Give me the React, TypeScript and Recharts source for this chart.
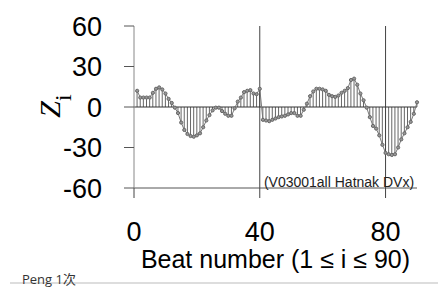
import { ComposedChart, Bar, Line, XAxis, YAxis, ReferenceLine } from 'recharts';

const beats = Array.from({ length: 90 }, (_, k) => k + 1);

const zValues = [
  12, 7, 7, 7, 7, 10.5, 13.5, 14.5, 13, 10,
  6, 3, -0.5, -4.5, -11.5, -17, -20, -21.5, -22, -21,
  -19.5, -15, -10, -6, -2.5, -0.5, -0.5, -3, -5, -6.5,
  -6.5, -1, 4, 7, 11, 12, 12.5, 10, 9.5, 13.5,
  -9.5, -10, -10.5, -9.5, -8.5, -7.5, -7, -6.5, -5.5, -4.5,
  -4.5, -6.5, -6.5, -2, 2.5, 8, 11.5, 13.5, 13.5, 13,
  12, 9, 8, 7.5, 8.5, 10.5, 12, 14, 20, 21,
  16.5, 10, 5, -0.5, -7.5, -14, -16, -21, -28, -34,
  -35, -35.5, -35, -30, -24, -19.5, -15, -11, -5, 3.5,
];

const yTicks = [-60, -30, 0, 30, 60];
const xTicks = [0, 40, 80];
const segmentLines = [40, 80];

const data = beats.map((i, k) => ({ i, z: zValues[k] }));

const FONT = 'Arial, "Liberation Sans", sans-serif';

function YTick(props: any) {
  const { x, y, payload } = props;
  return (
    <text x={x - 20} y={y} dy="0.36em" textAnchor="end" fontSize={27} fontFamily={FONT} fill="#000">
      {payload.value}
    </text>
  );
}

function XTick(props: any) {
  const { x, y, payload } = props;
  return (
    <text x={x} y={y + 41} textAnchor="middle" fontSize={27} fontFamily={FONT} fill="#000">
      {payload.value}
    </text>
  );
}

function XLabel(props: any) {
  const { viewBox } = props;
  return (
    <text x={viewBox.x + viewBox.width / 2} y={viewBox.y + 80} textAnchor="middle" fontSize={25} fontFamily={FONT} fill="#000">
      Beat number (1 ≤ i ≤ 90)
    </text>
  );
}

export default function App() {
  return (
    <div style={{ position: 'absolute', left: 0, top: 0, width: 438, height: 287, background: '#fff' }}>
      <ComposedChart width={438} height={287} data={data} margin={{ top: 26, right: 21, bottom: 0, left: 0 }}>
        <XAxis
          dataKey="i"
          type="number"
          domain={[0, 90]}
          ticks={xTicks}
          height={99}
          tickSize={10}
          tickLine={{ stroke: '#444' }}
          axisLine={{ stroke: '#555' }}
          tick={<XTick />}
          label={<XLabel />}
        />
        <YAxis
          type="number"
          domain={[-60, 60]}
          ticks={yTicks}
          width={134}
          tickSize={10}
          tickLine={{ stroke: '#555' }}
          axisLine={{ stroke: '#888' }}
          tick={<YTick />}
        />
        {segmentLines.map((v) => (
          <ReferenceLine key={v} x={v} stroke="#444" />
        ))}
        <ReferenceLine y={0} stroke="#333" />
        <Bar dataKey="z" barSize={1} fill="#666" isAnimationActive={false} />
        <Line
          dataKey="z"
          stroke="#777"
          strokeWidth={1}
          dot={{ r: 1.6, stroke: '#666', strokeWidth: 1, fill: '#999' }}
          isAnimationActive={false}
        />
      </ComposedChart>
      <svg width={438} height={287} style={{ position: 'absolute', left: 0, top: 0, pointerEvents: 'none' }}>
        <text
          transform="rotate(-90, 60, 106)"
          x={60}
          y={106}
          textAnchor="middle"
          fontFamily='"Liberation Serif", "DejaVu Serif", serif'
          fill="#000"
        >
          <tspan fontSize={30} fontStyle="italic">Z</tspan>
          <tspan fontSize={24} dy={11}>i</tspan>
        </text>
        <text x={339} y={187} textAnchor="middle" fontSize={14} fontFamily='"Liberation Sans", sans-serif' fill="#222">
          (V03001all Hatnak DVx)
        </text>
        <line x1={10} y1={283} x2={438} y2={283} stroke="#bbb" />
        <text x={22} y={284} fontSize={13} fontFamily='"Open Sans", "Noto Sans CJK SC", sans-serif' fill="#333">
          Peng 1次
        </text>
      </svg>
    </div>
  );
}
